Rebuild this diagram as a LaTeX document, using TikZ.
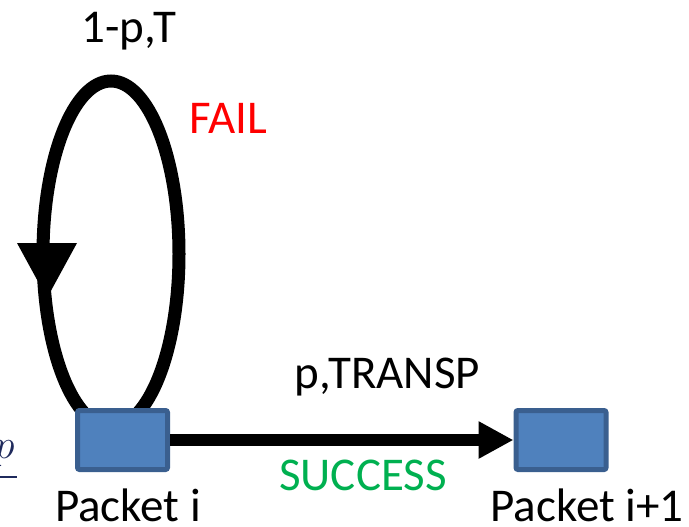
\documentclass[tikz,border=0pt]{standalone}
\usepackage{fontspec}
\setmainfont{Carlito}
\usetikzlibrary{arrows.meta,backgrounds}
\definecolor{boxfill}{HTML}{4F81BD}
\definecolor{boxedge}{HTML}{3A5F8F}
\definecolor{failred}{HTML}{FF0000}
\definecolor{succgreen}{HTML}{00B050}
\definecolor{navy}{HTML}{1F2A5C}
\tikzset{
  packet/.style={draw=boxedge, fill=boxfill, line width=2.5pt, rounded corners=1pt,
    minimum width=45pt, minimum height=29.5pt, inner sep=0pt},
  lbl/.style={font=\fontsize{23.5}{28}\selectfont, anchor=base, inner sep=0pt},
  loopline/.style={line width=6.5pt, draw=black},
  mainarrow/.style={line width=6pt, -{Triangle[length=17.5pt,width=17.5pt]}}
}
\begin{document}
\begin{tikzpicture}[x=0.5pt,y=-0.5pt]
\useasboundingbox (0,0) rectangle (689,526);
\node[packet] (a) at (122.5,440) {};
\node[packet] (b) at (561,440) {};
\begin{scope}[on background layer]
  \draw[loopline] ([shift={(-11.5,-186)}]a.center) coordinate (lc) ellipse [x radius=34pt, y radius=86.5pt];
  \fill[black] (17,243) coordinate (t1) -- (77,243) coordinate (t2) -- (47,298) coordinate (t3) -- cycle;
\end{scope}
\draw[mainarrow] (a.east) -- (b.west);
\node[lbl] (l1) at (129,42) {1-p,T};
\node[lbl, text=failred] (l2) at (228.5,133) {FAIL};
\node[lbl] (l3) at (387.5,388) {p,TRANSP};
\node[lbl, text=succgreen] (l4) at (363,490) {SUCCESS};
\node[lbl] (l5) at (128,521) {Packet i};
\node[lbl] (l6) at (587,521) {Packet i+1};
\node[anchor=base east, inner sep=0pt, text=navy, font=\fontsize{20}{20}\selectfont] (pf) at (15,458) {$p$};
\draw[navy, line width=0.8pt] (0,477) coordinate (f1) -- (17,477) coordinate (f2);
\end{tikzpicture}
\end{document}
